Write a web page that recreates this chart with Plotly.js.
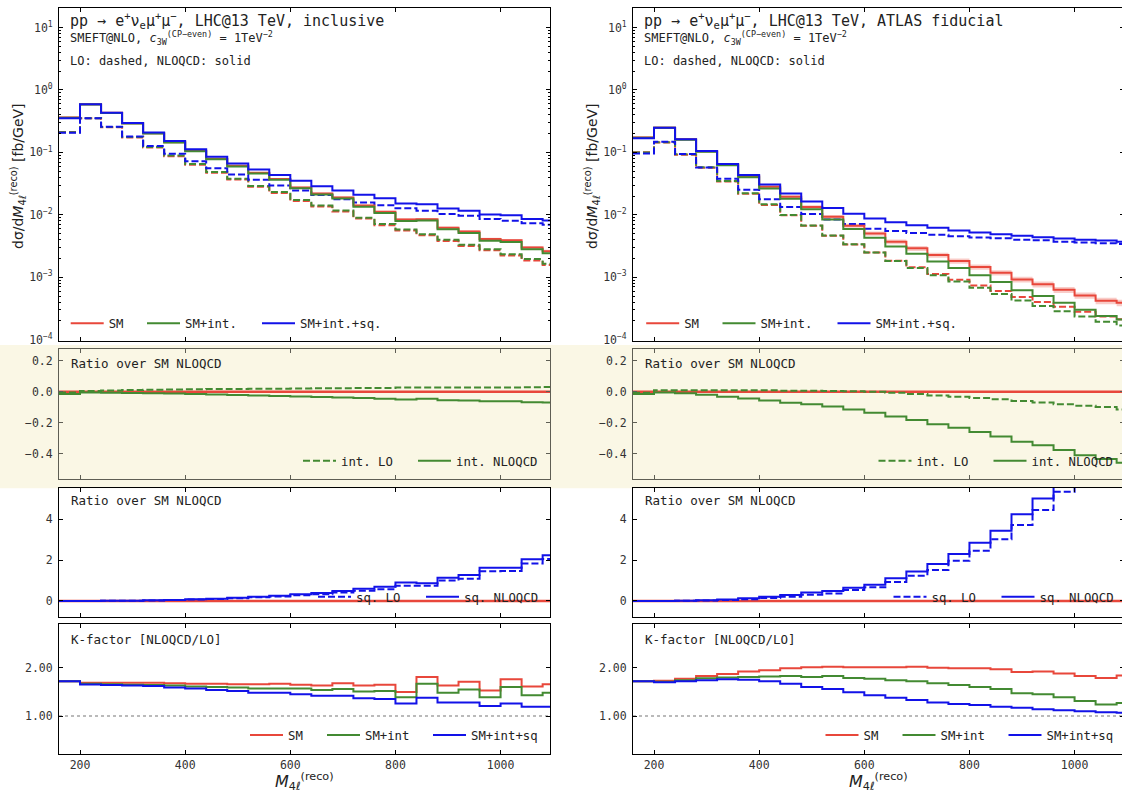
<!DOCTYPE html>
<html><head><meta charset="utf-8">
<script src="https://cdn.plot.ly/plotly-3.0.1.min.js"></script>
<style>html,body{margin:0;padding:0;overflow:hidden;background:#fff}</style>
</head><body><div id="chart"></div>
<script>
// ---------------- data (bin edges in GeV) ----------------
const binEdges = [160,200,240,280,320,360,400,440,480,520,560,600,640,680,720,760,800,840,880,920,960,1000,1040,1080,1120];

// ---- inclusive (left column) : dsigma/dM [fb/GeV]
const incSMnlo    = [0.364,0.589,0.432,0.292,0.202,0.146,0.106,0.079,0.061,0.047,0.0374,0.0275,0.0220,0.0190,0.0141,0.0112,0.0084,0.0085,0.0062,0.0054,0.0041,0.0039,0.0030,0.0026];
const incSMIntNlo = [0.3585,0.5866,0.4294,0.2897,0.200,0.1442,0.1044,0.0776,0.0597,0.0459,0.0364,0.02665,0.02125,0.0183,0.01352,0.0107,0.00798,0.00812,0.00586,0.0051,0.00385,0.00366,0.0028,0.00242];
const incFullNlo  = [0.352,0.589,0.432,0.296,0.209,0.152,0.112,0.0851,0.0667,0.0533,0.0433,0.0351,0.0288,0.0246,0.0209,0.0185,0.0152,0.0148,0.0126,0.0116,0.0101,0.0098,0.0086,0.0081];
const incSMlo     = [0.212,0.351,0.252,0.174,0.120,0.087,0.0635,0.0473,0.0369,0.0281,0.0224,0.0167,0.0136,0.0113,0.0087,0.0068,0.0056,0.0047,0.0038,0.00316,0.0027,0.00222,0.00186,0.00157];
const incSMIntLo  = [0.2105,0.354,0.2555,0.1772,0.1226,0.0892,0.0652,0.0486,0.0380,0.0290,0.0231,0.0173,0.0141,0.0117,0.0090,0.0071,0.0058,0.0049,0.0040,0.0033,0.0028,0.00233,0.00195,0.00165];
const incFullLo   = [0.206,0.353,0.257,0.180,0.127,0.095,0.0724,0.0557,0.0441,0.0364,0.0296,0.0245,0.0207,0.0178,0.0157,0.0142,0.0127,0.0116,0.0103,0.0097,0.0086,0.0080,0.0073,0.0069];
const incSMnloUnc = [0.03,0.03,0.03,0.03,0.03,0.03,0.03,0.03,0.035,0.035,0.035,0.035,0.04,0.04,0.04,0.04,0.045,0.045,0.05,0.05,0.05,0.055,0.055,0.06];
// ratios over SM NLOQCD
const incIntLoRatio  = [-0.004,0.005,0.008,0.011,0.013,0.015,0.016,0.017,0.018,0.019,0.02,0.021,0.022,0.023,0.024,0.025,0.027,0.027,0.027,0.028,0.028,0.028,0.029,0.03];
const incIntNloRatio = [-0.015,-0.004,-0.006,-0.008,-0.01,-0.012,-0.015,-0.018,-0.021,-0.024,-0.027,-0.031,-0.034,-0.037,-0.041,-0.045,-0.05,-0.045,-0.055,-0.056,-0.062,-0.062,-0.068,-0.07];
const incSqLoRatio   = [0.002,0.003,0.007,0.013,0.025,0.042,0.068,0.095,0.135,0.18,0.22,0.28,0.33,0.42,0.50,0.57,0.75,0.75,1.00,1.09,1.46,1.47,1.84,2.05];
const incSqNloRatio  = [0.002,0.004,0.008,0.015,0.03,0.05,0.08,0.11,0.16,0.21,0.26,0.33,0.39,0.49,0.60,0.70,0.90,0.87,1.14,1.27,1.63,1.63,2.04,2.24];
// K-factors
const incKsm     = [1.72,1.69,1.69,1.69,1.69,1.68,1.67,1.67,1.66,1.66,1.67,1.65,1.63,1.68,1.63,1.65,1.50,1.81,1.63,1.71,1.53,1.76,1.61,1.66];
const incKsmInt  = [1.72,1.67,1.66,1.65,1.64,1.63,1.61,1.60,1.59,1.57,1.57,1.57,1.54,1.56,1.51,1.52,1.39,1.67,1.48,1.55,1.39,1.60,1.43,1.48];
const incKfull   = [1.72,1.655,1.64,1.63,1.62,1.59,1.57,1.54,1.52,1.48,1.48,1.45,1.42,1.42,1.37,1.35,1.26,1.38,1.28,1.28,1.21,1.26,1.19,1.19];

// ---- ATLAS fiducial (right column)
const fidSMnlo    = [0.174,0.249,0.162,0.104,0.064,0.0418,0.0281,0.0195,0.0134,0.0093,0.0067,0.0050,0.0037,0.0029,0.00226,0.00182,0.00146,0.00118,0.00092,0.00077,0.00063,0.00051,0.00042,0.00039];
const fidSMIntNlo = [0.171,0.248,0.160,0.102,0.062,0.040,0.0265,0.0181,0.0123,0.0084,0.0059,0.0043,0.0031,0.00237,0.00179,0.0014,0.00108,0.00084,0.00062,0.0005,0.00039,0.0003,0.00024,0.00021];
const fidFullNlo  = [0.168,0.249,0.162,0.105,0.065,0.0433,0.0307,0.022,0.0164,0.0129,0.0104,0.0087,0.0076,0.0068,0.0062,0.0056,0.0052,0.0049,0.0046,0.00438,0.00417,0.0040,0.00388,0.0037];
const fidSMlo     = [0.101,0.144,0.0915,0.0568,0.0342,0.0218,0.0144,0.0098,0.00667,0.0046,0.00333,0.00249,0.00184,0.00144,0.00113,0.000915,0.000734,0.0006,0.00048,0.0004,0.000335,0.00028,0.000235,0.000212];
const fidSMIntLo  = [0.100,0.146,0.093,0.0577,0.0348,0.0222,0.0147,0.0099,0.00675,0.00465,0.00336,0.00249,0.00182,0.0014,0.00108,0.000857,0.000676,0.00054,0.000425,0.000347,0.000285,0.000234,0.000193,0.000168];
const fidFullLo   = [0.096,0.148,0.094,0.0574,0.0378,0.0252,0.0178,0.0134,0.0103,0.0084,0.0071,0.0060,0.0055,0.0051,0.0048,0.00455,0.00433,0.0042,0.00398,0.0039,0.0037,0.0036,0.0035,0.0034];
const fidSMnloUnc = [0.04,0.04,0.04,0.045,0.05,0.05,0.055,0.06,0.065,0.07,0.075,0.08,0.085,0.09,0.09,0.095,0.1,0.1,0.105,0.11,0.11,0.115,0.12,0.12];
const fidIntLoRatio  = [-0.006,0.009,0.009,0.009,0.009,0.009,0.009,0.007,0.006,0.005,0.004,0.0,-0.006,-0.015,-0.024,-0.032,-0.04,-0.049,-0.06,-0.069,-0.08,-0.09,-0.099,-0.114];
const fidIntNloRatio = [-0.015,-0.004,-0.01,-0.02,-0.032,-0.043,-0.056,-0.071,-0.08,-0.095,-0.114,-0.135,-0.159,-0.183,-0.209,-0.232,-0.26,-0.288,-0.323,-0.346,-0.376,-0.409,-0.434,-0.458];
const fidSqLoRatio   = [0.001,0.003,0.008,0.02,0.05,0.09,0.14,0.21,0.30,0.37,0.54,0.67,0.93,1.24,1.52,1.97,2.46,3.02,3.72,4.45,5.35,6.3,7.3,7.8];
const fidSqNloRatio  = [0.001,0.004,0.01,0.03,0.07,0.13,0.21,0.29,0.41,0.49,0.65,0.80,1.11,1.44,1.81,2.30,2.85,3.44,4.24,5.02,5.98,7.25,8.67,8.95];
const fidKsm    = [1.72,1.73,1.77,1.83,1.87,1.92,1.95,1.99,2.01,2.02,2.01,2.01,2.01,2.02,2.0,1.99,1.99,1.97,1.91,1.92,1.88,1.83,1.79,1.84];
const fidKsmInt = [1.72,1.71,1.74,1.78,1.80,1.81,1.82,1.83,1.81,1.83,1.79,1.77,1.74,1.72,1.68,1.64,1.60,1.56,1.47,1.45,1.39,1.31,1.24,1.27];
const fidKfull  = [1.72,1.70,1.72,1.74,1.76,1.75,1.72,1.67,1.60,1.56,1.49,1.43,1.38,1.33,1.28,1.25,1.23,1.19,1.17,1.14,1.12,1.10,1.08,1.07];

// labels
const xTickVals = [200,400,600,800,1000];
const logTickVals = [1e-4,1e-3,1e-2,1e-1,1,10];
const logTickText = ['10<sup>−4</sup>','10<sup>−3</sup>','10<sup>−2</sup>','10<sup>−1</sup>','10<sup>0</sup>','10<sup>1</sup>'];
const legendTop = ['SM','SM+int.','SM+int.+sq.'];
const legendInt = ['int. LO','int. NLOQCD'];
const legendSq  = ['sq. LO','sq. NLOQCD'];
const legendK   = ['SM','SM+int','SM+int+sq'];

// ---------------- layout helpers ----------------
const W = 1126, H = 792;
const FONT = 'DejaVu Sans Mono, monospace';
const RED = '#e8473b', GREEN = '#438a32', BLUE = '#1212e8';
const DASH = '7px,3px';
const fx = p => p / W, fy = p => 1 - p / H;

const data = [];
function stepY(a){ return a.concat([a[a.length-1]]); }
function addLine(xa, ya, vals, color, dash, width, legendId, name){
  data.push({type:'scatter', mode:'lines', x: binEdges, y: stepY(vals), xaxis: xa, yaxis: ya,
    line:{shape:'hv', color: color, dash: dash || 'solid', width: width},
    name: name || '', showlegend: !!legendId, legend: legendId || 'legend', hoverinfo:'skip'});
}
function addBand(xa, ya, vals, rel){
  const lo = vals.map((v,i)=>v*(1-rel[i])), hi = vals.map((v,i)=>v*(1+rel[i]));
  data.push({type:'scatter', mode:'lines', x: binEdges, y: stepY(lo), xaxis: xa, yaxis: ya,
    line:{shape:'hv', width:0, color:'rgba(0,0,0,0)'}, showlegend:false, hoverinfo:'skip'});
  data.push({type:'scatter', mode:'lines', x: binEdges, y: stepY(hi), xaxis: xa, yaxis: ya, fill:'tonexty',
    fillcolor:'rgba(232,71,59,0.28)', line:{shape:'hv', width:0, color:'rgba(0,0,0,0)'}, showlegend:false, hoverinfo:'skip'});
}
const zeros = binEdges.slice(0, -1).map(() => 0);

function buildColumn(ax, s, L) {
  addBand(ax[0], ax[1], s.smNlo, s.unc);
  addLine(ax[0], ax[1], s.smLo, RED, DASH, 2);
  addLine(ax[0], ax[1], s.smIntLo, GREEN, DASH, 2);
  addLine(ax[0], ax[1], s.fullLo, BLUE, DASH, 2);
  addLine(ax[0], ax[1], s.smNlo, RED, 'solid', 2, L[0], legendTop[0]);
  addLine(ax[0], ax[1], s.smIntNlo, GREEN, 'solid', 2, L[1], legendTop[1]);
  addLine(ax[0], ax[1], s.fullNlo, BLUE, 'solid', 2, L[2], legendTop[2]);
  addLine(ax[2], ax[3], zeros, RED, 'solid', 2.5);
  addLine(ax[2], ax[3], s.intLo, GREEN, DASH, 2, L[3], legendInt[0]);
  addLine(ax[2], ax[3], s.intNlo, GREEN, 'solid', 2, L[4], legendInt[1]);
  addLine(ax[4], ax[5], zeros, RED, 'solid', 2.5);
  addLine(ax[4], ax[5], s.sqLo, BLUE, DASH, 2, L[5], legendSq[0]);
  addLine(ax[4], ax[5], s.sqNlo, BLUE, 'solid', 2, L[6], legendSq[1]);
  addLine(ax[6], ax[7], s.kSm, RED, 'solid', 2, L[7], legendK[0]);
  addLine(ax[6], ax[7], s.kSmInt, GREEN, 'solid', 2, L[8], legendK[1]);
  addLine(ax[6], ax[7], s.kFull, BLUE, 'solid', 2, L[9], legendK[2]);
}

buildColumn(['x','y','x2','y2','x3','y3','x4','y4'],
  {smNlo:incSMnlo, smIntNlo:incSMIntNlo, fullNlo:incFullNlo, smLo:incSMlo, smIntLo:incSMIntLo, fullLo:incFullLo, unc:incSMnloUnc,
   intLo:incIntLoRatio, intNlo:incIntNloRatio, sqLo:incSqLoRatio, sqNlo:incSqNloRatio, kSm:incKsm, kSmInt:incKsmInt, kFull:incKfull},
  ['legend','legend2','legend3','legend4','legend5','legend6','legend7','legend8','legend9','legend10']);
buildColumn(['x5','y5','x6','y6','x7','y7','x8','y8'],
  {smNlo:fidSMnlo, smIntNlo:fidSMIntNlo, fullNlo:fidFullNlo, smLo:fidSMlo, smIntLo:fidSMIntLo, fullLo:fidFullLo, unc:fidSMnloUnc,
   intLo:fidIntLoRatio, intNlo:fidIntNloRatio, sqLo:fidSqLoRatio, sqNlo:fidSqNloRatio, kSm:fidKsm, kSmInt:fidKsmInt, kFull:fidKfull},
  ['legend11','legend12','legend13','legend14','legend15','legend16','legend17','legend18','legend19','legend20']);

// ---------------- axes ----------------
const colDom = [[fx(59), fx(550)], [fx(633), fx(1124)]];
const rowDom = [[fy(340.5), fy(8.3)], [fy(479.3), fy(349.3)], [fy(616.5), fy(488)], [fy(754.3), fy(624.3)]];
const tickFont = {family: FONT, size: 11.5, color: '#333'};

const minorVals = [];
for (let e = -4; e <= 1; e++) for (let m = 2; m <= 9; m++) minorVals.push(m * Math.pow(10, e));

const layout = {
  width: W, height: H, margin: {l:0, r:0, t:0, b:0},
  paper_bgcolor: '#ffffff', plot_bgcolor: 'rgba(0,0,0,0)',
  font: {family: FONT, color: '#222'},
  showlegend: true, shapes: [], annotations: []
};

function xAxis(col, row) {
  const lc = row === 1 ? '#5e5e54' : '#000';
  return {domain: colDom[col], anchor: null, range: [160, 1094], tickmode:'array', tickvals: xTickVals,
    ticks:'inside', ticklen:4, tickwidth:1, tickcolor: lc, showline:true, linecolor: lc, linewidth:1,
    mirror:'allticks', showgrid:false, zeroline:false, showticklabels: row === 3, tickfont: tickFont, fixedrange:true};
}
function yAxis(col, row) {
  const lc = row === 1 ? '#5e5e54' : '#000';
  const base = {domain: rowDom[row], ticks:'inside', ticklen:4, tickwidth:1, tickcolor: lc, showline:true, linecolor: lc,
    linewidth:1, mirror:'allticks', showgrid:false, zeroline:false, tickfont: tickFont, fixedrange:true, ticklabelstandoff: 3};
  if (row === 0) return Object.assign(base, {type:'log', range:[-4.014, 1.309], tickmode:'array', tickvals: logTickVals, ticktext: logTickText,
    minor: {tickmode:'array', tickvals: minorVals, ticks:'inside', ticklen:2, tickcolor:'#000', showgrid:false}});
  if (row === 1) return Object.assign(base, {range:[-0.565, 0.274], tickmode:'array', tickvals:[-0.4,-0.2,0,0.2], tickformat:'.1f'});
  if (row === 2) return Object.assign(base, {range:[-0.76, 5.53], tickmode:'array', tickvals:[0,2,4]});
  return Object.assign(base, {range:[0.207, 2.90], tickmode:'array', tickvals:[1,2], tickformat:'.2f'});
}
for (let col = 0; col < 2; col++) {
  for (let row = 0; row < 4; row++) {
    const n = col * 4 + row + 1;
    const xa = xAxis(col, row), ya = yAxis(col, row);
    xa.anchor = n === 1 ? 'y' : 'y' + n;
    ya.anchor = n === 1 ? 'x' : 'x' + n;
    layout[n === 1 ? 'xaxis' : 'xaxis' + n] = xa;
    layout[n === 1 ? 'yaxis' : 'yaxis' + n] = ya;
  }
}

layout.shapes.push({type:'rect', xref:'paper', yref:'paper', x0:0, x1:1, y0:fy(488.3), y1:fy(345),
  fillcolor:'#faf7e5', line:{width:0}, layer:'below'});
['4','8'].forEach(k => layout.shapes.push({type:'line', xref:'x'+k+' domain', yref:'y'+k, x0:0, x1:1, y0:1, y1:1,
  line:{color:'#777', width:1.2, dash:'dot'}, layer:'below'}));

// ---------------- legends ----------------
const legPos = [
  [70.7,323.3],[147,323.3],[262,323.3],
  [303,460.7],[418,460.7],
  [318,596.7],[426,596.7],
  [250,735],[327,735],[433,735]
];
for (let col = 0; col < 2; col++) {
  legPos.forEach((p, i) => {
    const n = col * 10 + i + 1;
    const id = n === 1 ? 'legend' : 'legend' + n;
    layout[id] = {x: fx(p[0] + col * 575.5 - 5), y: fy(p[1]), xanchor:'left', yanchor:'middle', orientation:'v',
      bgcolor:'rgba(0,0,0,0)', borderwidth:0, font:{family: FONT, size:12.3, color:'#222'}, itemwidth:33};
  });
}

// ---------------- texts ----------------
function ann(text, x, y, size, extra) {
  layout.annotations.push(Object.assign({text: text, xref:'paper', yref:'paper', x: fx(x), y: fy(y),
    xanchor:'left', yanchor:'middle', showarrow:false, font:{family: FONT, size: size, color:'#222'}}, extra || {}));
}
const procText = 'pp → e<sup>+</sup>ν<sub>e</sub>μ<sup>+</sup>μ<sup>−</sup>, LHC@13 TeV, ';
const setupText = 'SMEFT@NLO, <i>c</i><sub>3W</sub><sup>(CP−even)</sup> = 1TeV<sup>−2</sup>';
const styleText = 'LO: dashed, NLOQCD: solid';
const ratioText = 'Ratio over SM NLOQCD';
const kText = 'K-factor [NLOQCD/LO]';
const yTitle = 'dσ/d<i>M</i><sub>4ℓ</sub><sup>(reco)</sup> [fb/GeV]';
const xTitle = '<i>M</i><sub>4ℓ</sub><sup>(reco)</sup>';
const colNames = ['inclusive', 'ATLAS fiducial'];
[0, 574].forEach((dx, col) => {
  ann(procText + colNames[col], 68 + dx, 21, 15);
  ann(setupText, 68 + dx, 38, 12);
  ann(styleText, 68 + dx, 61, 12);
  ann(ratioText, 69 + dx, 364, 12.5);
  ann(ratioText, 69 + dx, 500.7, 12.5);
  ann(kText, 69 + dx, 639, 12.5);
  ann(yTitle, 18 + dx, 176, 14, {xanchor:'center', textangle:-90, font:{family:'DejaVu Sans, sans-serif', size:14, color:'#222'}});
  ann(xTitle, 304.5 + dx, 781, 16, {xanchor:'center', font:{family:'DejaVu Sans, sans-serif', size:16, color:'#222'}});
});

Plotly.newPlot('chart', data, layout, {displayModeBar:false, staticPlot:true});
</script>
</body></html>
